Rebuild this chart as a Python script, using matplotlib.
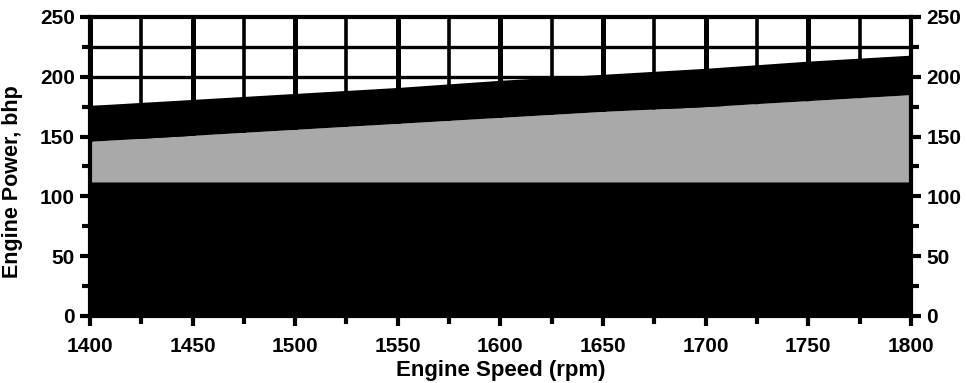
import numpy as np
import matplotlib
matplotlib.use("Agg")
import matplotlib.pyplot as plt
from matplotlib.ticker import MultipleLocator

plt.rcParams['font.family'] = ['Liberation Sans', 'DejaVu Sans']
plt.rcParams['font.weight'] = 'bold'

# valores
rpm = [1400, 1450, 1500, 1550, 1600, 1650, 1700, 1750, 1800]
potencia_base = [112, 112, 112, 112, 112, 112, 112, 112, 112]
potencia_media = [146, 151, 156, 161, 166, 171, 175, 180, 185]
potencia_max = [176, 181, 186, 191, 197, 202, 207, 213, 218]

fig = plt.figure(figsize=(9.67, 3.83), dpi=100)
ax = fig.add_axes([0.093, 0.175, 0.849, 0.781])

# grade atrás das áreas
for x in range(1400, 1801, 25):
    ax.axvline(x, color='black', lw=3.6 if x % 50 == 0 else 2.6, zorder=0)
for y in range(25, 250, 25):
    ax.axhline(y, color='black', lw=2.4, zorder=0)

ax.fill_between(rpm, 0, potencia_base, color='black', lw=0, zorder=1)
ax.fill_between(rpm, potencia_base, potencia_media, color='#a9a9a9', lw=0, zorder=1)
ax.fill_between(rpm, potencia_media, potencia_max, color='black', lw=0, zorder=1)

ax.set_xlim(1400, 1800)
ax.set_ylim(0, 250)
ax.xaxis.set_major_locator(MultipleLocator(50))
ax.xaxis.set_minor_locator(MultipleLocator(25))
ax.yaxis.set_major_locator(MultipleLocator(50))
ax.yaxis.set_minor_locator(MultipleLocator(25))

for s in ax.spines.values():
    s.set_linewidth(3)
    s.set_zorder(3)

ax.tick_params(which='both', direction='out', width=3, labelsize=15,
               right=True, labelright=True, top=False)
ax.tick_params(which='major', length=7)
ax.tick_params(which='minor', length=6)
ax.tick_params(axis='x', which='major', pad=8)
ax.tick_params(axis='y', which='major', pad=4)

ax.set_xlabel('Engine Speed (rpm)', fontsize=16, fontweight='bold', labelpad=3)
ax.set_ylabel('Engine Power, bhp', fontsize=15.5, fontweight='bold')
ax.yaxis.set_label_coords(-0.082, 0.45)

fig.savefig('out.png', dpi=100)
